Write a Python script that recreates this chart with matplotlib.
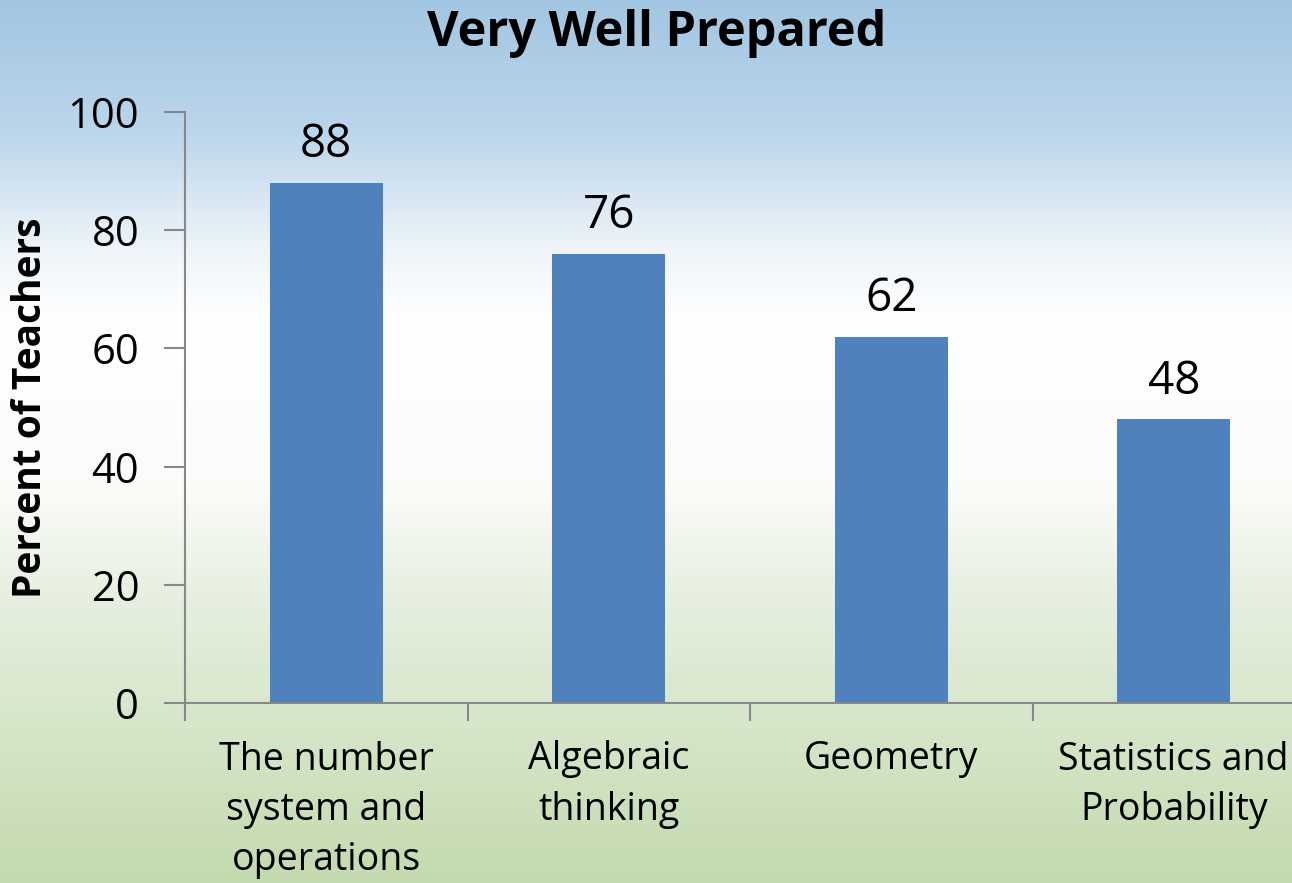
import numpy as np
import matplotlib.pyplot as plt
from matplotlib.colors import LinearSegmentedColormap

categories = ["The number\nsystem and\noperations", "Algebraic\nthinking",
              "Geometry", "Statistics and\nProbability"]
values = [88, 76, 62, 48]
yticks = [0, 20, 40, 60, 80, 100]

fig = plt.figure(figsize=(12.92, 8.83), dpi=100)

# slide-style background: blue sky fading to white, then pale green
bg = fig.add_axes([0, 0, 1, 1], zorder=-10)
bg.axis("off")
grad = LinearSegmentedColormap.from_list(
    "bg", [(0.0, "#a2c6e2"), (0.15, "#bcd6eb"), (0.28, "#eef4f9"),
           (0.36, "#ffffff"), (0.55, "#fbfcf9"), (0.68, "#e6efdf"),
           (0.84, "#d4e5c7"), (1.0, "#c3daae")])
bg.imshow(np.linspace(0, 1, 256)[:, None], aspect="auto", cmap=grad,
          extent=[0, 1, 0, 1], origin="upper")

ax = fig.add_axes([185 / 1292, 180 / 883, 1130 / 1292, 591 / 883])
ax.patch.set_alpha(0)

x = np.arange(len(categories))
ax.bar(x, values, width=0.4, color="#4f81bd", zorder=2)
for xi, v in zip(x, values):
    ax.text(xi, v + 2.5, str(v), ha="center", va="bottom", fontsize=33,
            family="Open Sans")

ax.set_xlim(-0.5, 3.5)
ax.set_ylim(0, 100)
ax.set_yticks(yticks)
ax.set_yticklabels([str(t) for t in yticks], fontsize=30, family="Open Sans")
ax.set_xticks(np.arange(-0.5, 4.0, 1.0))
ax.set_xticklabels([])
ax.xaxis.set_minor_locator(plt.FixedLocator(x))
ax.set_xticklabels(categories, minor=True, fontsize=27,
                   family="Open Sans", linespacing=1.42)
ax.tick_params(axis="x", which="minor", length=0, pad=27)
ax.tick_params(axis="x", which="major", length=13, color="#888888", width=1.5)
ax.tick_params(axis="y", length=15, color="#888888", width=1.5, pad=18)
for s in ["top", "right"]:
    ax.spines[s].set_visible(False)
for s in ["left", "bottom"]:
    ax.spines[s].set_color("#888888")
    ax.spines[s].set_linewidth(1.5)

ax.set_ylabel("Percent of Teachers", fontsize=28, fontweight="bold",
              family="Open Sans")
ax.yaxis.set_label_coords(-135 / 1130, 0.5)
fig.text(0.508, 0.962, "Very Well Prepared", ha="center", va="center",
         fontsize=35, fontweight="bold", family="Open Sans")

fig.savefig("out.png", dpi=100)
